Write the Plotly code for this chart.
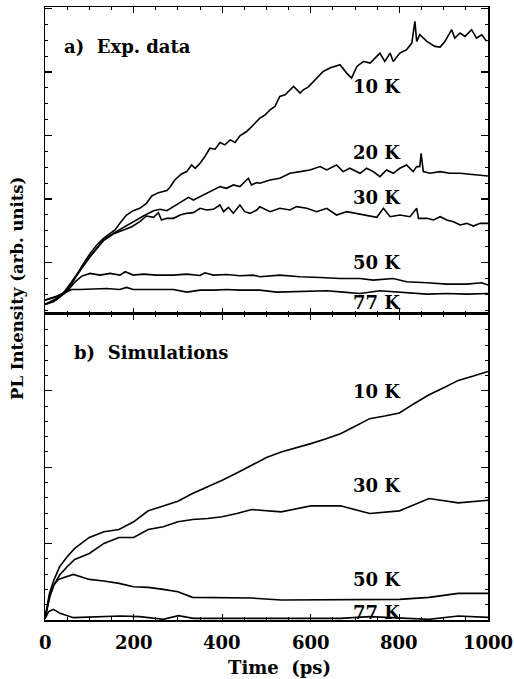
import plotly.graph_objects as go

# ---------------- Panel a) experimental data (PL intensity, arb. units) ----------------
t_exp_10K = [0, 19, 38, 49, 60, 71, 87, 102, 117, 132, 147, 158, 169, 184, 199, 214, 229, 241, 256, 275,
             282, 293, 308, 320, 331, 339, 350, 361, 372, 384, 395, 406, 418, 429, 440, 455, 463, 474, 485,
             497, 508, 519, 530, 542, 553, 561, 576, 583, 594, 606, 628, 643, 666, 681, 692, 704, 719, 734,
             756, 767, 779, 786, 801, 816, 828, 835, 839, 846, 862, 880, 892, 903, 918, 925, 937, 948, 963,
             974, 986, 997]
pl_exp_10K = [27, 35, 55, 75, 92, 115, 150, 180, 205, 225, 240, 250, 270, 295, 308, 315, 330, 352, 362, 368,
              378, 400, 418, 425, 445, 435, 450, 470, 495, 492, 512, 505, 520, 512, 532, 545, 555, 570, 585,
              595, 610, 620, 650, 655, 670, 680, 660, 670, 678, 695, 725, 735, 745, 720, 705, 740, 755, 750,
              780, 755, 780, 755, 780, 790, 810, 875, 815, 835, 815, 800, 798, 815, 850, 825, 840, 830, 850,
              825, 835, 815]

t_exp_20K = [0, 26, 49, 71, 102, 132, 154, 177, 199, 222, 245, 260, 275, 290, 308, 324, 335, 350, 365, 380,
             395, 410, 425, 440, 451, 459, 466, 478, 485, 508, 530, 553, 576, 598, 621, 636, 658, 673, 688,
             711, 726, 741, 756, 771, 786, 801, 816, 831, 839, 846, 849, 854, 869, 892, 914, 937, 959, 982, 1000]
pl_exp_20K = [27, 45, 70, 115, 170, 220, 240, 258, 275, 292, 308, 312, 308, 320, 335, 348, 340, 350, 358, 368,
              380, 375, 385, 380, 395, 405, 385, 392, 390, 400, 405, 420, 425, 430, 440, 430, 445, 425, 435,
              420, 435, 425, 410, 430, 420, 435, 445, 425, 440, 440, 480, 425, 420, 425, 420, 420, 417, 415, 412]

t_exp_30K = [0, 26, 49, 71, 102, 132, 154, 177, 196, 214, 229, 245, 256, 263, 275, 290, 305, 320, 335, 350,
             365, 380, 395, 403, 414, 425, 440, 451, 463, 478, 485, 508, 530, 553, 568, 591, 613, 636, 658,
             681, 704, 726, 749, 764, 779, 801, 824, 839, 843, 862, 877, 892, 907, 922, 937, 952, 967, 982, 1000]
pl_exp_30K = [27, 42, 65, 112, 172, 218, 238, 250, 260, 275, 292, 288, 302, 280, 285, 285, 295, 300, 302, 315,
              310, 312, 325, 305, 318, 300, 325, 305, 300, 310, 320, 305, 315, 310, 320, 315, 305, 315, 295,
              305, 300, 295, 288, 315, 290, 295, 290, 315, 285, 285, 280, 290, 280, 275, 265, 270, 262, 270, 270]

t_exp_50K = [0, 26, 49, 68, 83, 102, 124, 147, 169, 181, 199, 222, 252, 290, 320, 350, 361, 380, 410, 440,
             470, 485, 530, 576, 621, 666, 711, 741, 786, 816, 862, 907, 952, 986, 1000]
pl_exp_50K = [40, 50, 65, 95, 112, 120, 115, 120, 115, 125, 115, 118, 115, 115, 118, 114, 122, 115, 117, 113,
              115, 110, 115, 110, 108, 105, 105, 100, 105, 95, 92, 88, 88, 92, 85]

t_exp_77K = [0, 26, 49, 60, 79, 109, 139, 169, 184, 199, 229, 260, 290, 320, 350, 380, 410, 440, 485, 523,
             561, 606, 636, 673, 711, 756, 786, 824, 862, 907, 952, 1000]
pl_exp_77K = [40, 52, 65, 72, 72, 73, 75, 72, 78, 72, 72, 70, 72, 64, 70, 70, 72, 70, 70, 64,
              65, 66, 68, 64, 60, 68, 65, 62, 58, 60, 58, 60]

# ---------------- Panel b) simulations (PL intensity, arb. units) ----------------
t_sim_10K = [0, 10, 20, 33, 50, 67, 100, 133, 167, 200, 233, 267, 300, 333, 367, 400, 433, 467, 500, 533,
             567, 600, 633, 667, 700, 733, 767, 800, 833, 867, 900, 933, 967, 1000]
pl_sim_10K = [5, 80, 120, 160, 190, 215, 248, 265, 272, 295, 328, 342, 357, 380, 400, 420, 442, 466, 488, 505,
              517, 530, 544, 560, 582, 605, 613, 622, 650, 677, 698, 720, 733, 747]

t_sim_30K = [0, 10, 20, 33, 50, 67, 100, 133, 167, 200, 233, 267, 300, 333, 367, 400, 433, 467, 533, 600,
             667, 733, 800, 867, 933, 1000]
pl_sim_30K = [5, 70, 105, 135, 160, 182, 200, 230, 248, 248, 272, 280, 295, 302, 305, 310, 320, 332, 325, 343,
              343, 320, 328, 365, 352, 360]

t_sim_50K = [0, 11, 20, 30, 64, 100, 133, 167, 200, 233, 267, 300, 333, 400, 467, 533, 600, 667, 733, 800,
             867, 933, 1000]
pl_sim_50K = [5, 70, 105, 122, 137, 122, 117, 110, 100, 98, 92, 85, 68, 68, 66, 60, 60, 60, 60, 62,
              68, 80, 80]

t_sim_77K = [0, 8, 19, 34, 64, 100, 169, 214, 252, 267, 301, 335, 400, 467, 533, 600, 667, 733, 800, 867,
             933, 1000]
pl_sim_77K = [3, 25, 32, 20, 7, 8, 12, 10, 3, 2, 13, 5, 5, 5, 3, 4, 5, 10, 6, 2,
              12, 8]

# labels
labels_exp = ["10 K", "20 K", "30 K", "50 K", "77 K"]
labels_exp_y = [679, 481, 346, 154, 34]
labels_sim = ["10 K", "30 K", "50 K", "77 K"]
labels_sim_y = [687, 405, 123, 24]
label_t = 690

x_ticks = [0, 200, 400, 600, 800, 1000]
x_tick_text = ["0", "200", "400", "600", "800", "1000"]

FONT = "DejaVu Serif"
line = dict(color="black", width=1.6)

fig = go.Figure()
for t, v in [(t_exp_10K, pl_exp_10K), (t_exp_20K, pl_exp_20K), (t_exp_30K, pl_exp_30K),
             (t_exp_50K, pl_exp_50K), (t_exp_77K, pl_exp_77K)]:
    fig.add_trace(go.Scatter(x=t, y=v, mode="lines", line=line, xaxis="x", yaxis="y",
                             showlegend=False, hoverinfo="skip"))
for t, v in [(t_sim_10K, pl_sim_10K), (t_sim_30K, pl_sim_30K),
             (t_sim_50K, pl_sim_50K), (t_sim_77K, pl_sim_77K)]:
    fig.add_trace(go.Scatter(x=t, y=v, mode="lines", line=line, xaxis="x2", yaxis="y2",
                             showlegend=False, hoverinfo="skip"))

tfont = dict(family=FONT, size=18, color="black", weight="bold")
yfont = dict(family=FONT, size=16.5, color="black", weight="bold")
ann = []
ann.append(dict(x=39, y=799, xref="x", yref="y", text="a)  Exp. data", showarrow=False,
                xanchor="left", yanchor="middle", font=tfont))
for s, yv in zip(labels_exp, labels_exp_y):
    ann.append(dict(x=label_t, y=yv, xref="x", yref="y", text=s, showarrow=False,
                    xanchor="left", yanchor="middle", font=tfont))
ann.append(dict(x=61, y=804, xref="x2", yref="y2", text="b)  Simulations", showarrow=False,
                xanchor="left", yanchor="middle", font=tfont))
for s, yv in zip(labels_sim, labels_sim_y):
    ann.append(dict(x=label_t, y=yv, xref="x2", yref="y2", text=s, showarrow=False,
                    xanchor="left", yanchor="middle", font=tfont))
# x tick labels, centred on the ticks of the bottom axis
for tv, tt in zip(x_ticks, x_tick_text):
    ann.append(dict(x=tv, y=-0.036, xref="x2", yref="paper", text=tt, showarrow=False,
                    xanchor="center", yanchor="middle", font=tfont))
# axis titles
ann.append(dict(x=-0.062, y=0.541, xref="paper", yref="paper", text="PL Intensity (arb. units)",
                showarrow=False, textangle=-90, xanchor="center", yanchor="middle", font=yfont))
ann.append(dict(x=0.53, y=-0.077, xref="paper", yref="paper", text="Time  (ps)",
                showarrow=False, xanchor="center", yanchor="middle", font=tfont))

xcommon = dict(range=[0, 1000], showgrid=False, zeroline=False, showline=True, linecolor="black",
               linewidth=1.5, mirror="allticks", ticks="inside", ticklen=6, tickwidth=1.2, tickcolor="black",
               tickvals=x_ticks, automargin=False, showticklabels=False,
               minor=dict(dtick=50, tick0=0, ticks="inside", ticklen=3, tickwidth=1, tickcolor="black"))
ycommon = dict(showgrid=False, zeroline=False, showline=True, linecolor="black", linewidth=1.5,
               mirror="allticks", ticks="inside", ticklen=7, tickwidth=1.2, tickcolor="black",
               showticklabels=False, automargin=False)

fig.update_layout(
    width=514, height=679,
    margin=dict(l=45, r=26, t=7, b=59, autoexpand=False),
    paper_bgcolor="white", plot_bgcolor="white",
    xaxis=dict(xcommon, anchor="y", domain=[0, 1]),
    yaxis=dict(ycommon, domain=[0.5, 1], range=[0, 918], tick0=152.65, dtick=190.2,
               minor=dict(tick0=10, dtick=47.55, ticks="inside", ticklen=3, tickwidth=1, tickcolor="black")),
    xaxis2=dict(xcommon, anchor="y2", domain=[0, 1]),
    yaxis2=dict(ycommon, domain=[0, 0.5], range=[0, 921], tick0=0, dtick=229.5,
                minor=dict(tick0=0, dtick=45.9, ticks="inside", ticklen=3, tickwidth=1, tickcolor="black")),
    annotations=ann,
)

fig.write_html(
    "out.html", config={"displayModeBar": False, "staticPlot": True},
    post_script=("document.documentElement.style.overflow='hidden';"
                 "document.body.style.overflow='hidden';"
                 "document.body.style.margin='0px';document.body.style.padding='0px';"))
